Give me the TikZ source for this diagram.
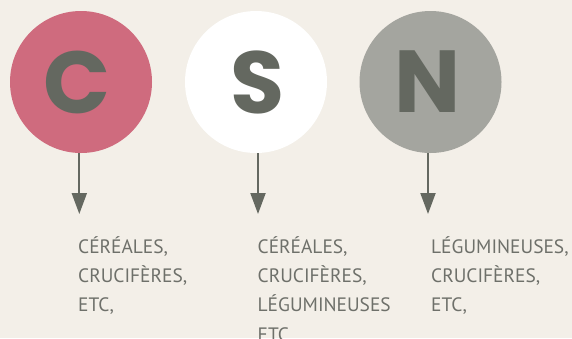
\documentclass[tikz,border=0pt]{standalone}
\usepackage{fontspec}
\setmainfont{PT Sans}
\newfontfamily\bigletter{Poppins Bold}
\usetikzlibrary{arrows.meta}
\definecolor{bgc}{HTML}{F3EFE8}
\definecolor{pinkc}{HTML}{CF6B7E}
\definecolor{grayc}{HTML}{A4A59F}
\definecolor{darkc}{HTML}{646860}
\definecolor{textc}{HTML}{6E706A}
\tikzset{
  disc/.style={circle, minimum size=142pt, inner sep=0pt},
  letter/.style={text=darkc, inner sep=0pt, font={\bigletter\fontsize{88}{88}\selectfont}},
  arr/.style={draw=darkc, line width=2pt, -{Triangle[length=21pt,width=15pt]}},
  label/.style={anchor=base west, inner sep=0pt, text=textc, text width=170pt, align=left,
    font={\fontsize{19.4}{29.4}\selectfont}}
}
\begin{document}
\begin{tikzpicture}[x=1pt,y=-1pt]
\fill[bgc] (0,0) rectangle (572,338);
\useasboundingbox (0,0) rectangle (572,338);
\node[disc, fill=pinkc] (c) at (81,82) {};
\node[disc, fill=white] (s) at (256,82) {};
\node[disc, fill=grayc] (n) at (430.5,82) {};
\node[letter] (cl) at (77,82) {C};
\node[letter] (sl) at (258,82) {S};
\node[letter] (nl) at (427.5,82) {N};
\coordinate (ct) at (79.3,214);
\coordinate (st) at (258,214);
\coordinate (nt) at (428,214);
\draw[arr] (c.south -| ct) -- (ct);
\draw[arr] (s.south -| st) -- (st);
\draw[arr] (n.south -| nt) -- (nt);
\node[label] (ctext) at (78,253) {CÉRÉALES,\\CRUCIFÈRES,\\ETC,};
\node[label] (stext) at (257.5,253) {CÉRÉALES,\\CRUCIFÈRES,\\LÉGUMINEUSES\\ETC,};
\node[label] (ntext) at (431,253) {LÉGUMINEUSES,\\CRUCIFÈRES,\\ETC,};
\end{tikzpicture}
\end{document}
